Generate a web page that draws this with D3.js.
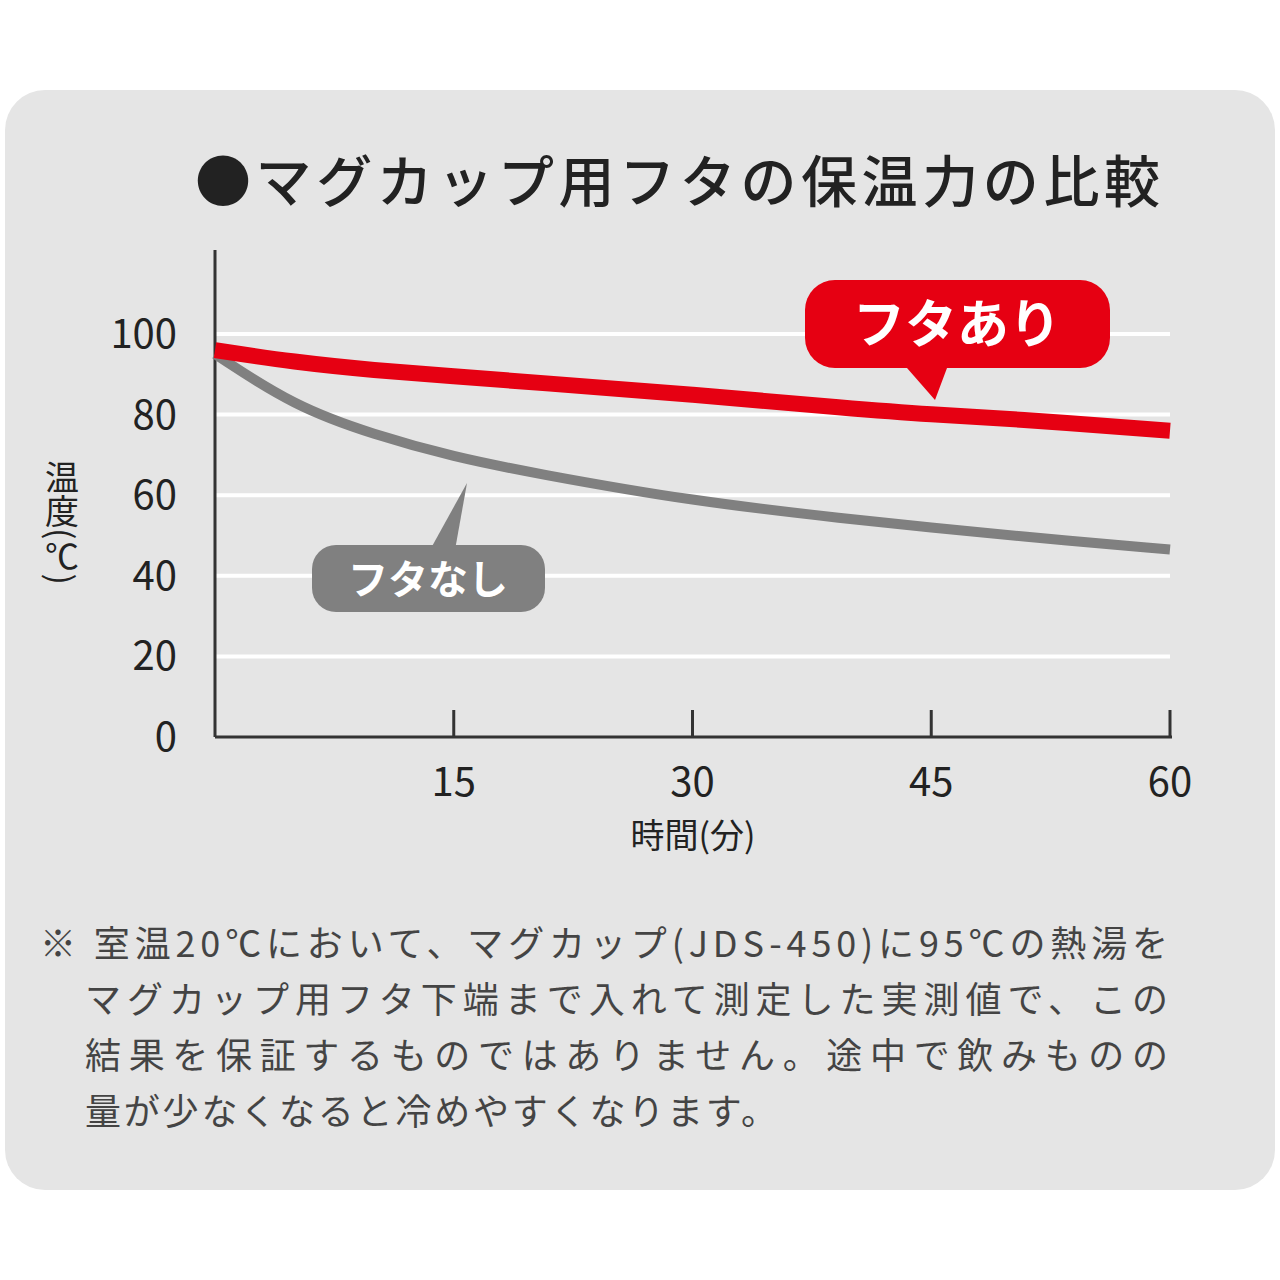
<!DOCTYPE html>
<html><head><meta charset="utf-8">
<script src="https://cdn.jsdelivr.net/npm/d3@7"></script>
<style>body{margin:0;background:#fff}</style></head>
<body><svg id="c" width="1280" height="1280"></svg>
<script>
// data
var minutes = [0, 5, 10, 15, 20, 30, 40, 45, 50, 60];
var withLid = [96, 93, 91, 89.5, 88, 85, 81.5, 80, 79, 76];
var withoutLid = [95, 82, 75, 69.5, 65.5, 58.5, 54, 52, 50, 46.5];
var yTicks = [0, 20, 40, 60, 80, 100];
var xTicks = [15, 30, 45, 60];
var notes = ["※ 室温20℃において、マグカップ(JDS-450)に95℃の熱湯を",
             "マグカップ用フタ下端まで入れて測定した実測値で、この",
             "結果を保証するものではありません。途中で飲みものの",
             "量が少なくなると冷めやすくなります。"];
var noteWidths = [1128, 1083, 1083, 692];

var svg = d3.select("#c");
var font = "'Noto Sans CJK JP', sans-serif";
svg.append("rect").attr("x", 5).attr("y", 90).attr("width", 1270).attr("height", 1100)
  .attr("rx", 40).attr("fill", "#e5e5e5");

svg.append("text").attr("x", 195).attr("y", 202).attr("font-family", font)
  .attr("font-size", 56).attr("font-weight", 500).attr("fill", "#222")
  .attr("textLength", 965).attr("lengthAdjust", "spacing")
  .text("●マグカップ用フタの保温力の比較");

var x = d3.scaleLinear().domain([0, 60]).range([215, 1170]);
var y = d3.scaleLinear().domain([0, 100]).range([737, 334]);

svg.selectAll(".g").data(yTicks.filter(d => d > 0)).enter().append("line")
  .attr("x1", x(0)).attr("x2", x(60)).attr("y1", d => y(d)).attr("y2", d => y(d))
  .attr("stroke", "#fff").attr("stroke-width", 4);

svg.selectAll(".yl").data(yTicks).enter().append("text")
  .attr("x", 177).attr("y", d => y(d) + 14).attr("text-anchor", "end")
  .attr("font-family", font).attr("font-size", 40).attr("fill", "#222").text(d => d);

svg.append("line").attr("x1", x(0)).attr("x2", x(0)).attr("y1", 250).attr("y2", y(0))
  .attr("stroke", "#333").attr("stroke-width", 3);
svg.append("line").attr("x1", x(0)).attr("x2", x(60) + 2).attr("y1", y(0)).attr("y2", y(0))
  .attr("stroke", "#333").attr("stroke-width", 3);
svg.selectAll(".xt").data(xTicks).enter().append("line")
  .attr("x1", d => x(d)).attr("x2", d => x(d)).attr("y1", y(0)).attr("y2", y(0) - 27)
  .attr("stroke", "#333").attr("stroke-width", 3);
svg.selectAll(".xl").data(xTicks).enter().append("text")
  .attr("x", d => x(d)).attr("y", 796).attr("text-anchor", "middle")
  .attr("font-family", font).attr("font-size", 40).attr("fill", "#222").text(d => d);

svg.append("text").attr("x", 693).attr("y", 848).attr("text-anchor", "middle")
  .attr("font-family", font).attr("font-size", 34).attr("fill", "#222").text("時間(分)");
svg.append("text").attr("x", 62).attr("y", 460)
  .style("writing-mode", "vertical-rl")
  .attr("font-family", font).attr("font-size", 34).attr("fill", "#222").text("温度(℃)");

var line = d3.line().x((d, i) => x(minutes[i])).y(d => y(d)).curve(d3.curveBasis);
svg.append("path").attr("d", line(withoutLid)).attr("fill", "none")
  .attr("stroke", "#808080").attr("stroke-width", 10);
svg.append("path").attr("d", line(withLid)).attr("fill", "none")
  .attr("stroke", "#e60012").attr("stroke-width", 16);

svg.append("path").attr("d", "M900,360 L935,400 L950,360 Z").attr("fill", "#e60012");
svg.append("rect").attr("x", 805).attr("y", 280).attr("width", 305).attr("height", 88)
  .attr("rx", 30).attr("fill", "#e60012");
svg.append("text").attr("x", 957).attr("y", 343).attr("text-anchor", "middle")
  .attr("font-family", font).attr("font-size", 52).attr("font-weight", 700).attr("fill", "#fff").text("フタあり");

svg.append("path").attr("d", "M430,550 L467,483 L455,550 Z").attr("fill", "#808080");
svg.append("rect").attr("x", 312).attr("y", 545).attr("width", 233).attr("height", 67)
  .attr("rx", 24).attr("fill", "#808080");
svg.append("text").attr("x", 428).attr("y", 594).attr("text-anchor", "middle")
  .attr("font-family", font).attr("font-size", 40).attr("font-weight", 700).attr("fill", "#fff").text("フタなし");

svg.selectAll(".n").data(notes).enter().append("text")
  .attr("x", (d, i) => i === 0 ? 40 : 85).attr("y", (d, i) => 957 + i * 56)
  .attr("textLength", (d, i) => noteWidths[i]).attr("lengthAdjust", "spacing")
  .attr("font-family", font).attr("font-size", 36).attr("fill", "#444").text(d => d);
</script></body></html>
